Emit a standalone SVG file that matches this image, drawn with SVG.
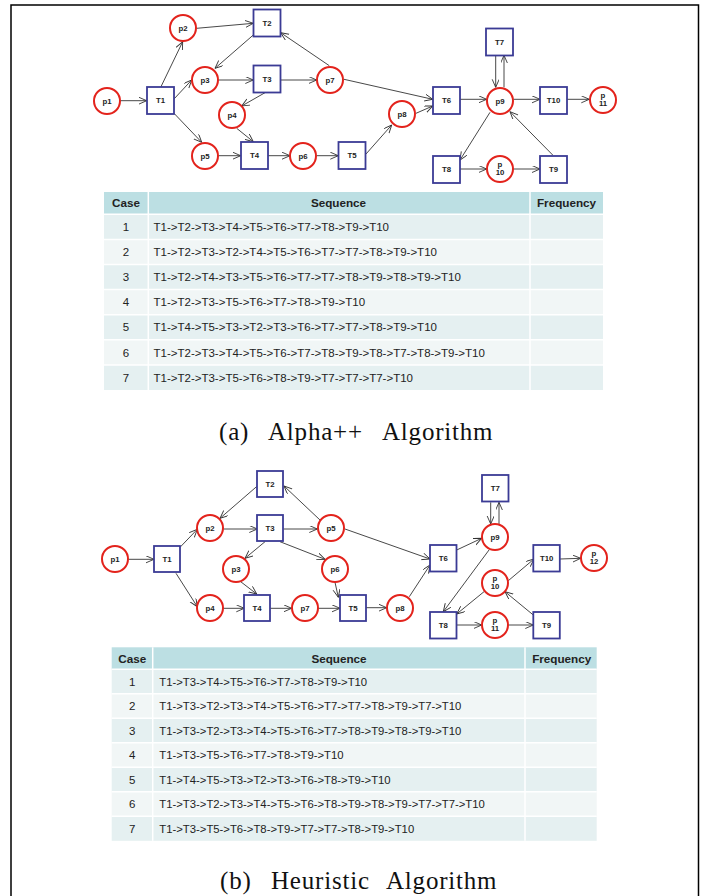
<svg xmlns="http://www.w3.org/2000/svg" width="707" height="896" viewBox="0 0 707 896">
<style>
.pl{fill:#fff;stroke:#e3231c;stroke-width:2}
.tr{fill:#fff;stroke:#3b3b95;stroke-width:1.8}
.nl{font-family:"Liberation Sans",Arial,sans-serif;font-size:7.8px;font-weight:bold;fill:#222;text-anchor:middle}
.e{stroke:#333;stroke-width:0.9;fill:none;marker-end:url(#ah)}
.hd{fill:#bcdfe3}
.r1{fill:#e5f0f1}
.r2{fill:#f1f6f6}
.th{font-family:"Liberation Sans",Arial,sans-serif;font-size:11.7px;font-weight:bold;fill:#222;text-anchor:middle}
.tc{font-family:"Liberation Sans",Arial,sans-serif;font-size:11.5px;fill:#222;text-anchor:middle}
.ts{font-family:"Liberation Sans",Arial,sans-serif;font-size:11.5px;fill:#222}
.ts2{font-family:"Liberation Sans",Arial,sans-serif;font-size:11.3px;fill:#222}
.cap{font-family:"Liberation Serif","Times New Roman",serif;font-size:25px;fill:#111;letter-spacing:0.8px}
.sep{stroke:#fff;stroke-width:1.5}
</style>
<defs>
<marker id="ah" markerWidth="9" markerHeight="8" refX="8" refY="3.5" orient="auto" markerUnits="userSpaceOnUse">
<path d="M0,0 L8,3.5 L0,7" fill="none" stroke="#333" stroke-width="0.9"/>
</marker>
</defs>
<rect x="0" y="0" width="707" height="896" fill="#fff"/>
<path d="M11,900 V5 H698.5 V900" fill="none" stroke="#000" stroke-width="1.5"/>

<!-- ===== Top graph connectors ===== -->
<g id="edges-a">
<line class="e" x1="120" y1="100.7" x2="146.7" y2="100.7"/>
<line class="e" x1="160.7" y1="87.3" x2="182.7" y2="41.7"/>
<line class="e" x1="174" y1="99" x2="191.7" y2="80"/>
<line class="e" x1="174" y1="113.3" x2="201.7" y2="142.3"/>
<line class="e" x1="196.7" y1="28.3" x2="253.3" y2="23.3"/>
<line class="e" x1="253.3" y1="35" x2="215" y2="68.3"/>
<line class="e" x1="218.3" y1="80" x2="253.3" y2="80"/>
<line class="e" x1="280.7" y1="80" x2="316.7" y2="80"/>
<line class="e" x1="329.3" y1="65.7" x2="280.7" y2="32.7"/>
<line class="e" x1="265" y1="92.7" x2="241.7" y2="106"/>
<line class="e" x1="236.7" y1="128.3" x2="253.3" y2="141.7"/>
<line class="e" x1="218.3" y1="155.7" x2="240.7" y2="155.7"/>
<line class="e" x1="267.7" y1="155.7" x2="290" y2="155.7"/>
<line class="e" x1="316.7" y1="155.7" x2="338.3" y2="155.7"/>
<line class="e" x1="344" y1="79.3" x2="432.7" y2="99.3"/>
<line class="e" x1="366" y1="154" x2="391.7" y2="125"/>
<line class="e" x1="416" y1="113.3" x2="432.7" y2="106"/>
<line class="e" x1="460" y1="99.3" x2="486.7" y2="99.3"/>
<line class="e" x1="495.7" y1="55.3" x2="495.7" y2="87.3"/>
<line class="e" x1="504" y1="87.3" x2="504" y2="55.3"/>
<line class="e" x1="513.3" y1="99.3" x2="540" y2="99.3"/>
<line class="e" x1="566.7" y1="99.3" x2="589.3" y2="99.3"/>
<line class="e" x1="490" y1="112.3" x2="460" y2="160"/>
<line class="e" x1="460" y1="169" x2="486.7" y2="169"/>
<line class="e" x1="513.3" y1="169" x2="540" y2="169"/>
<line class="e" x1="552.7" y1="155" x2="510" y2="111.7"/>
</g>

<!-- ===== Top graph nodes ===== -->
<g id="a-p1"><circle class="pl" cx="107" cy="101" r="13"/><text class="nl" x="107" y="103.5">p1</text></g>
<g id="a-T1"><rect class="tr" x="147" y="87" width="27" height="27"/><text class="nl" x="160.5" y="103">T1</text></g>
<g id="a-p2"><circle class="pl" cx="183" cy="28" r="13"/><text class="nl" x="183" y="30.5">p2</text></g>
<g id="a-T2"><rect class="tr" x="253.5" y="9.5" width="27" height="27"/><text class="nl" x="267" y="25.5">T2</text></g>
<g id="a-p3"><circle class="pl" cx="205" cy="80" r="13"/><text class="nl" x="205" y="82.5">p3</text></g>
<g id="a-T3"><rect class="tr" x="253.5" y="65.5" width="27" height="27"/><text class="nl" x="267" y="81.5">T3</text></g>
<g id="a-p7"><circle class="pl" cx="330" cy="80" r="13"/><text class="nl" x="330" y="82.5">p7</text></g>
<g id="a-p4"><circle class="pl" cx="232" cy="115" r="13"/><text class="nl" x="232" y="117.5">p4</text></g>
<g id="a-p5"><circle class="pl" cx="205" cy="156" r="13"/><text class="nl" x="205" y="158.5">p5</text></g>
<g id="a-T4"><rect class="tr" x="241" y="142" width="27" height="27"/><text class="nl" x="254.5" y="158">T4</text></g>
<g id="a-p6"><circle class="pl" cx="303" cy="156" r="13"/><text class="nl" x="303" y="158.5">p6</text></g>
<g id="a-T5"><rect class="tr" x="338.5" y="142" width="27" height="27"/><text class="nl" x="352" y="158">T5</text></g>
<g id="a-p8"><circle class="pl" cx="402" cy="114" r="13"/><text class="nl" x="402" y="116.5">p8</text></g>
<g id="a-T6"><rect class="tr" x="433" y="87" width="27" height="27"/><text class="nl" x="446.5" y="103">T6</text></g>
<g id="a-T7"><rect class="tr" x="486" y="28.5" width="27" height="27"/><text class="nl" x="499.5" y="44.5">T7</text></g>
<g id="a-p9"><circle class="pl" cx="500" cy="101" r="13"/><text class="nl" x="500" y="103.5">p9</text></g>
<g id="a-T10"><rect class="tr" x="540" y="87" width="27" height="27"/><text class="nl" x="553.5" y="103">T10</text></g>
<g id="a-p11"><circle class="pl" cx="603" cy="100" r="13"/><text class="nl" x="603" y="98">p</text><text class="nl" x="603" y="106">11</text></g>
<g id="a-T8"><rect class="tr" x="433" y="156" width="27" height="27"/><text class="nl" x="446.5" y="172">T8</text></g>
<g id="a-p10"><circle class="pl" cx="500" cy="169" r="13"/><text class="nl" x="500" y="167">p</text><text class="nl" x="500" y="175">10</text></g>
<g id="a-T9"><rect class="tr" x="540" y="156" width="27" height="27"/><text class="nl" x="553.5" y="172">T9</text></g>

<!-- ===== Top table ===== -->
<g id="table-a">
<rect class="hd" x="104" y="192" width="499" height="22.3"/>
<rect class="r1" x="104" y="214.3" width="499" height="25.1"/>
<rect class="r2" x="104" y="239.4" width="499" height="25.1"/>
<rect class="r1" x="104" y="264.5" width="499" height="25.1"/>
<rect class="r2" x="104" y="289.6" width="499" height="25.1"/>
<rect class="r1" x="104" y="314.7" width="499" height="25.1"/>
<rect class="r2" x="104" y="339.8" width="499" height="25.1"/>
<rect class="r1" x="104" y="364.9" width="499" height="25.1"/>
<g class="sep">
<line x1="148.3" y1="192" x2="148.3" y2="390"/>
<line x1="530" y1="192" x2="530" y2="390"/>
<line x1="104" y1="214.3" x2="603" y2="214.3"/>
<line x1="104" y1="239.4" x2="603" y2="239.4"/>
<line x1="104" y1="264.5" x2="603" y2="264.5"/>
<line x1="104" y1="289.6" x2="603" y2="289.6"/>
<line x1="104" y1="314.7" x2="603" y2="314.7"/>
<line x1="104" y1="339.8" x2="603" y2="339.8"/>
<line x1="104" y1="364.9" x2="603" y2="364.9"/>
</g>
<text class="th" x="126" y="207">Case</text>
<text class="th" x="338.5" y="207">Sequence</text>
<text class="th" x="566.5" y="207">Frequency</text>
<text class="tc" x="126" y="231">1</text>
<text class="tc" x="126" y="256.1">2</text>
<text class="tc" x="126" y="281.2">3</text>
<text class="tc" x="126" y="306.3">4</text>
<text class="tc" x="126" y="331.4">5</text>
<text class="tc" x="126" y="356.5">6</text>
<text class="tc" x="126" y="381.6">7</text>
<text class="ts" x="153.5" y="231">T1-&gt;T2-&gt;T3-&gt;T4-&gt;T5-&gt;T6-&gt;T7-&gt;T8-&gt;T9-&gt;T10</text>
<text class="ts" x="153.5" y="256.1">T1-&gt;T2-&gt;T3-&gt;T2-&gt;T4-&gt;T5-&gt;T6-&gt;T7-&gt;T7-&gt;T8-&gt;T9-&gt;T10</text>
<text class="ts" x="153.5" y="281.2">T1-&gt;T2-&gt;T4-&gt;T3-&gt;T5-&gt;T6-&gt;T7-&gt;T7-&gt;T8-&gt;T9-&gt;T8-&gt;T9-&gt;T10</text>
<text class="ts" x="153.5" y="306.3">T1-&gt;T2-&gt;T3-&gt;T5-&gt;T6-&gt;T7-&gt;T8-&gt;T9-&gt;T10</text>
<text class="ts" x="153.5" y="331.4">T1-&gt;T4-&gt;T5-&gt;T3-&gt;T2-&gt;T3-&gt;T6-&gt;T7-&gt;T7-&gt;T8-&gt;T9-&gt;T10</text>
<text class="ts" x="153.5" y="356.5">T1-&gt;T2-&gt;T3-&gt;T4-&gt;T5-&gt;T6-&gt;T7-&gt;T8-&gt;T9-&gt;T8-&gt;T7-&gt;T8-&gt;T9-&gt;T10</text>
<text class="ts" x="153.5" y="381.6">T1-&gt;T2-&gt;T3-&gt;T5-&gt;T6-&gt;T8-&gt;T9-&gt;T7-&gt;T7-&gt;T7-&gt;T10</text>
</g>
<text id="cap-a" class="cap" y="439.5"><tspan x="219">(a)</tspan><tspan x="268">Alpha++</tspan><tspan x="382">Algorithm</tspan></text>

<!-- ===== Bottom graph connectors ===== -->
<g id="edges-b">
<line class="e" x1="128.3" y1="559.3" x2="154" y2="559.3"/>
<line class="e" x1="180" y1="547.3" x2="197.3" y2="529.3"/>
<line class="e" x1="176" y1="573.3" x2="197.3" y2="606.7"/>
<line class="e" x1="257.3" y1="486" x2="220" y2="518.3"/>
<line class="e" x1="223.3" y1="529" x2="257.3" y2="529"/>
<line class="e" x1="283.3" y1="529" x2="317.3" y2="529"/>
<line class="e" x1="320" y1="520" x2="284" y2="486"/>
<line class="e" x1="265" y1="541.7" x2="245" y2="558.3"/>
<line class="e" x1="280" y1="541.7" x2="325" y2="559.3"/>
<line class="e" x1="240.7" y1="581.7" x2="256.7" y2="594"/>
<line class="e" x1="223.3" y1="608.3" x2="244.3" y2="608.3"/>
<line class="e" x1="270.3" y1="608.3" x2="291.7" y2="608.3"/>
<line class="e" x1="318.3" y1="608.3" x2="340" y2="608.3"/>
<line class="e" x1="335" y1="582.3" x2="338.3" y2="597.3"/>
<line class="e" x1="345" y1="529" x2="430" y2="559"/>
<line class="e" x1="365.7" y1="607.7" x2="386.7" y2="607.7"/>
<line class="e" x1="409.3" y1="596.7" x2="430" y2="565"/>
<line class="e" x1="456.7" y1="550" x2="481.7" y2="538.3"/>
<line class="e" x1="490.7" y1="502.3" x2="490.7" y2="524"/>
<line class="e" x1="499" y1="524" x2="499" y2="502.3"/>
<line class="e" x1="489" y1="550" x2="443.3" y2="611.7"/>
<line class="e" x1="484" y1="591.7" x2="456.7" y2="614"/>
<line class="e" x1="508.3" y1="580.7" x2="534" y2="559"/>
<line class="e" x1="560" y1="559" x2="580.7" y2="558.3"/>
<line class="e" x1="456.7" y1="625" x2="481.7" y2="625"/>
<line class="e" x1="508.3" y1="625" x2="533.3" y2="625"/>
<line class="e" x1="533.3" y1="615" x2="505" y2="591.7"/>
</g>

<!-- ===== Bottom graph nodes ===== -->
<g id="b-p1"><circle class="pl" cx="115" cy="559" r="13"/><text class="nl" x="115" y="561.5">p1</text></g>
<g id="b-T1"><rect class="tr" x="154" y="546" width="26" height="26"/><text class="nl" x="167" y="561.5">T1</text></g>
<g id="b-T2"><rect class="tr" x="257" y="471" width="26" height="26"/><text class="nl" x="270" y="486.5">T2</text></g>
<g id="b-p2"><circle class="pl" cx="210" cy="528" r="13"/><text class="nl" x="210" y="530.5">p2</text></g>
<g id="b-T3"><rect class="tr" x="257" y="515" width="26" height="26"/><text class="nl" x="270" y="530.5">T3</text></g>
<g id="b-p5"><circle class="pl" cx="331" cy="528" r="13"/><text class="nl" x="331" y="530.5">p5</text></g>
<g id="b-p3"><circle class="pl" cx="236" cy="569" r="13"/><text class="nl" x="236" y="571.5">p3</text></g>
<g id="b-p6"><circle class="pl" cx="335" cy="569" r="13"/><text class="nl" x="335" y="571.5">p6</text></g>
<g id="b-p4"><circle class="pl" cx="210" cy="608" r="13"/><text class="nl" x="210" y="610.5">p4</text></g>
<g id="b-T4"><rect class="tr" x="244" y="595" width="26" height="26"/><text class="nl" x="257" y="610.5">T4</text></g>
<g id="b-p7"><circle class="pl" cx="305" cy="608" r="13"/><text class="nl" x="305" y="610.5">p7</text></g>
<g id="b-T5"><rect class="tr" x="340" y="595" width="26" height="26"/><text class="nl" x="353" y="610.5">T5</text></g>
<g id="b-p8"><circle class="pl" cx="400" cy="608" r="13"/><text class="nl" x="400" y="610.5">p8</text></g>
<g id="b-T6"><rect class="tr" x="430" y="545" width="26.5" height="26.5"/><text class="nl" x="443.3" y="561">T6</text></g>
<g id="b-T7"><rect class="tr" x="482" y="475" width="26.5" height="26.5"/><text class="nl" x="495.2" y="491">T7</text></g>
<g id="b-p9"><circle class="pl" cx="495" cy="537" r="13"/><text class="nl" x="495" y="539.5">p9</text></g>
<g id="b-T10"><rect class="tr" x="533.3" y="545" width="26.5" height="26.5"/><text class="nl" x="546.6" y="561">T10</text></g>
<g id="b-p12"><circle class="pl" cx="594" cy="558" r="13"/><text class="nl" x="594" y="556">p</text><text class="nl" x="594" y="564">12</text></g>
<g id="b-p10"><circle class="pl" cx="495" cy="583" r="13"/><text class="nl" x="495" y="581">p</text><text class="nl" x="495" y="589">10</text></g>
<g id="b-T8"><rect class="tr" x="430" y="612" width="26.5" height="26.5"/><text class="nl" x="443.3" y="628">T8</text></g>
<g id="b-p11"><circle class="pl" cx="495" cy="625" r="13"/><text class="nl" x="495" y="623">p</text><text class="nl" x="495" y="631">11</text></g>
<g id="b-T9"><rect class="tr" x="533.3" y="612" width="26.5" height="26.5"/><text class="nl" x="546.6" y="628">T9</text></g>

<!-- ===== Bottom table ===== -->
<g id="table-b">
<rect class="hd" x="111.7" y="647.3" width="485" height="22"/>
<rect class="r1" x="111.7" y="669.3" width="485" height="24.5"/>
<rect class="r2" x="111.7" y="693.8" width="485" height="24.5"/>
<rect class="r1" x="111.7" y="718.3" width="485" height="24.5"/>
<rect class="r2" x="111.7" y="742.8" width="485" height="24.5"/>
<rect class="r1" x="111.7" y="767.3" width="485" height="24.5"/>
<rect class="r2" x="111.7" y="791.8" width="485" height="24.5"/>
<rect class="r1" x="111.7" y="816.3" width="485" height="24.5"/>
<g class="sep">
<line x1="152.7" y1="647.3" x2="152.7" y2="840.8"/>
<line x1="525" y1="647.3" x2="525" y2="840.8"/>
<line x1="111.7" y1="669.3" x2="596.7" y2="669.3"/>
<line x1="111.7" y1="693.8" x2="596.7" y2="693.8"/>
<line x1="111.7" y1="718.3" x2="596.7" y2="718.3"/>
<line x1="111.7" y1="742.8" x2="596.7" y2="742.8"/>
<line x1="111.7" y1="767.3" x2="596.7" y2="767.3"/>
<line x1="111.7" y1="791.8" x2="596.7" y2="791.8"/>
<line x1="111.7" y1="816.3" x2="596.7" y2="816.3"/>
</g>
<text class="th" x="132.3" y="662.5">Case</text>
<text class="th" x="339" y="662.5">Sequence</text>
<text class="th" x="561.7" y="662.5">Frequency</text>
<text class="tc" x="132.3" y="685.5">1</text>
<text class="tc" x="132.3" y="710">2</text>
<text class="tc" x="132.3" y="734.5">3</text>
<text class="tc" x="132.3" y="759">4</text>
<text class="tc" x="132.3" y="783.5">5</text>
<text class="tc" x="132.3" y="808">6</text>
<text class="tc" x="132.3" y="832.5">7</text>
<text class="ts2" x="159.3" y="685.5">T1-&gt;T3-&gt;T4-&gt;T5-&gt;T6-&gt;T7-&gt;T8-&gt;T9-&gt;T10</text>
<text class="ts2" x="159.3" y="710">T1-&gt;T3-&gt;T2-&gt;T3-&gt;T4-&gt;T5-&gt;T6-&gt;T7-&gt;T7-&gt;T8-&gt;T9-&gt;T7-&gt;T10</text>
<text class="ts2" x="159.3" y="734.5">T1-&gt;T3-&gt;T2-&gt;T3-&gt;T4-&gt;T5-&gt;T6-&gt;T7-&gt;T8-&gt;T9-&gt;T8-&gt;T9-&gt;T10</text>
<text class="ts2" x="159.3" y="759">T1-&gt;T3-&gt;T5-&gt;T6-&gt;T7-&gt;T8-&gt;T9-&gt;T10</text>
<text class="ts2" x="159.3" y="783.5">T1-&gt;T4-&gt;T5-&gt;T3-&gt;T2-&gt;T3-&gt;T6-&gt;T8-&gt;T9-&gt;T10</text>
<text class="ts2" x="159.3" y="808">T1-&gt;T3-&gt;T2-&gt;T3-&gt;T4-&gt;T5-&gt;T6-&gt;T8-&gt;T9-&gt;T8-&gt;T9-&gt;T7-&gt;T7-&gt;T10</text>
<text class="ts2" x="159.3" y="832.5">T1-&gt;T3-&gt;T5-&gt;T6-&gt;T8-&gt;T9-&gt;T7-&gt;T7-&gt;T8-&gt;T9-&gt;T10</text>
</g>
<text id="cap-b" class="cap" y="889"><tspan x="220">(b)</tspan><tspan x="271">Heuristic</tspan><tspan x="386">Algorithm</tspan></text>
</svg>
